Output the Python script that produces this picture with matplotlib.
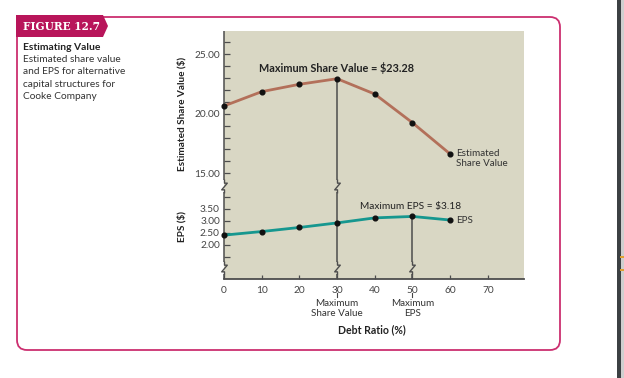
import matplotlib.pyplot as plt
from matplotlib.path import Path
from matplotlib.patches import FancyBboxPatch, Polygon, Rectangle

# values
debt_ratio = [0, 10, 20, 30, 40, 50, 60]
share_value = [20.66, 21.86, 22.48, 22.95, 21.66, 19.25, 16.62]
eps = [2.40, 2.55, 2.72, 2.91, 3.12, 3.18, 3.03]
x_ticks = [0, 10, 20, 30, 40, 50, 60, 70]
sv_ticks = list(range(15, 27))
sv_labeled = [15, 20, 25]
eps_ticks = [1.5, 2.0, 2.5, 3.0, 3.5, 4.0]
eps_labeled = [2.0, 2.5, 3.0, 3.5]
max_sv_idx = 3
max_eps_idx = 5

W, H = 624, 378
PINK = "#b8155a"
BEIGE = "#d9d7c4"
AXIS = "#4d4d4d"
TXT = "#222222"
plt.rcParams['font.family'] = ['Lato', 'DejaVu Sans']

fig = plt.figure(figsize=(W / 100, H / 100), dpi=100)


def px(x, y):
    # pixel position (top-left origin) -> inches for dpi_scale_trans
    return (x / 100, (H - y) / 100)


def fbox(x0, y0, x1, y1):
    return [x0 / W, 1 - y1 / H, (x1 - x0) / W, (y1 - y0) / H]


# frame + banner
frame = FancyBboxPatch(px(17, 350), 5.43, 3.33,
                       boxstyle="round,pad=0,rounding_size=0.1",
                       fill=False, ec="#cc2f70", lw=1.3,
                       transform=fig.dpi_scale_trans)
fig.add_artist(frame)
banner = Polygon([px(16, 15), px(103, 15), px(108, 26), px(103, 37), px(16, 37)],
                 closed=True, fc=PINK, ec="none", transform=fig.dpi_scale_trans)
fig.add_artist(banner)
fig.text(23 / W, 1 - 26.5 / H, "FIGURE 12.7",
         family="DejaVu Serif", weight="bold", color="white",
         fontsize=7.6, va="center", ha="left")

# scrollbar at the right edge of the screenshot
fig.add_artist(Rectangle((617 / W, 0), 4 / W, 1, fc="#3c4043", ec="none",
                         transform=fig.transFigure))
fig.add_artist(Rectangle((621 / W, 0), 3 / W, 1, fc="#cfcfcf", ec="none",
                         transform=fig.transFigure))
for yy in (258, 271):
    fig.add_artist(Rectangle((620 / W, 1 - yy / H), 4 / W, 2 / H, fc="#e0a030",
                             ec="none", transform=fig.transFigure))

# side description
fig.text(23 / W, 1 - 47 / H, "Estimating Value", weight="bold", fontsize=7.4,
         color=TXT, va="center")
desc = ["Estimated share value", "and EPS for alternative",
        "capital structures for", "Cooke Company"]
for i, line in enumerate(desc):
    fig.text(23 / W, 1 - (59.5 + 12.3 * i) / H, line, fontsize=7.3,
             color="#333333", va="center")

# plot background
fig.add_artist(Rectangle((224 / W, 1 - 279 / H), 300 / W, 248 / H, fc=BEIGE,
                         ec="none", transform=fig.transFigure, zorder=-1))

ax_sv = fig.add_axes(fbox(224, 31, 524, 186))
ax_eps = fig.add_axes(fbox(224, 186, 524, 279))
for ax in (ax_sv, ax_eps):
    ax.set_facecolor("none")
    ax.set_xlim(0, 79.6)
    for s in ("top", "right", "left", "bottom"):
        ax.spines[s].set_visible(False)
ax_sv.set_ylim(13.93, 26.96)
ax_eps.set_ylim(0.57, 4.45)
ax_eps.spines["bottom"].set_visible(True)
ax_eps.spines["bottom"].set_color(AXIS)
ax_eps.spines["bottom"].set_linewidth(1.3)

ax_sv.set_xticks([])
ax_sv.set_yticks(sv_ticks)
ax_sv.set_yticklabels([f"{t:.2f}" if t in sv_labeled else "" for t in sv_ticks])
ax_eps.set_yticks(eps_ticks)
ax_eps.set_yticklabels([f"{t:.2f}" if t in eps_labeled else "" for t in eps_ticks])
ax_eps.set_xticks(x_ticks)
ax_eps.set_xticklabels([str(t) for t in x_ticks])
for ax in (ax_sv, ax_eps):
    ax.tick_params(axis="y", direction="in", length=4, width=0.9, color=AXIS,
                   labelsize=7.3, labelcolor="#444444", pad=3)
ax_eps.tick_params(axis="x", direction="in", length=3, width=0.9, color=AXIS,
                   labelsize=7.3, labelcolor="#444444", pad=5)

# break marks
zpath = Path([(0, 0.5), (0, 0.24), (0.2, 0.24), (-0.2, -0.24), (0, -0.24), (0, -0.5)])
ZMS = 10
gap_px = 0.42 * ZMS * 100 / 72
gap_sv = gap_px / 11.9
gap_eps = gap_px / 24.0
sv_bot = ax_sv.get_ylim()[0]
eps_top = ax_eps.get_ylim()[1]
eps_bot = ax_eps.get_ylim()[0]
low_break = 1.03


def zmark(ax, x, y):
    ax.plot([x], [y], marker=zpath, ms=ZMS, mfc="none", mec=AXIS, mew=1.0,
            linestyle="none", clip_on=False, zorder=2)


kw = dict(color=AXIS, lw=1.1, clip_on=False, zorder=2)
# left axis line
ax_sv.vlines(0, sv_bot + gap_sv, ax_sv.get_ylim()[1], **kw)
ax_eps.vlines(0, low_break + gap_eps, eps_top - gap_eps, **kw)
ax_eps.vlines(0, eps_bot, low_break - gap_eps, **kw)
zmark(ax_sv, 0, sv_bot)
zmark(ax_eps, 0, low_break)

# drop line at maximum share value
xs = debt_ratio[max_sv_idx]
ax_sv.vlines(xs, sv_bot + gap_sv, share_value[max_sv_idx], **kw)
ax_eps.vlines(xs, low_break + gap_eps, eps_top - gap_eps, **kw)
ax_eps.vlines(xs, eps_bot, low_break - gap_eps, **kw)
zmark(ax_sv, xs, sv_bot)
zmark(ax_eps, xs, low_break)

# drop line at maximum EPS
xe = debt_ratio[max_eps_idx]
ax_eps.vlines(xe, low_break + gap_eps, eps[max_eps_idx], **kw)
ax_eps.vlines(xe, eps_bot, low_break - gap_eps, **kw)
zmark(ax_eps, xe, low_break)

# series
ax_sv.plot(debt_ratio, share_value, color="#b3705a", lw=2.0, marker="o", ms=3.4,
           mfc="#111111", mec="#111111", clip_on=False, zorder=3)
ax_eps.plot(debt_ratio, eps, color="#16978f", lw=2.0, marker="o", ms=3.4,
            mfc="#111111", mec="#111111", clip_on=False, zorder=3)

ax_sv.annotate(f"Maximum Share Value = ${23.28:.2f}",
               xy=(xs, share_value[max_sv_idx]), xytext=(-0.7, 7.7),
               textcoords="offset points", ha="center", va="center",
               fontsize=7.8, weight="bold", color=TXT)
ax_eps.annotate(f"Maximum EPS = ${eps[max_eps_idx]:.2f}",
                xy=(xe, eps[max_eps_idx]), xytext=(-1, 7.3),
                textcoords="offset points", ha="center", va="center",
                fontsize=7.3, color=TXT)
ax_sv.annotate("Estimated\nShare Value", xy=(debt_ratio[-1], share_value[-1]),
               xytext=(4.3, -3.3), textcoords="offset points", ha="left",
               va="center", fontsize=7.1, color="#333333", linespacing=1.05)
ax_eps.annotate("EPS", xy=(debt_ratio[-1], eps[-1]), xytext=(4.3, 0),
                textcoords="offset points", ha="left", va="center",
                fontsize=7.1, color="#333333")

# labels under the x axis
for xv, lab in ((xs, "Maximum\nShare Value"), (xe, "Maximum\nEPS")):
    ax_eps.plot([xv, xv], [-0.152, -0.192], transform=ax_eps.get_xaxis_transform(),
                color="#444444", lw=0.8, clip_on=False)
    ax_eps.annotate(lab, xy=(xv, 0), xycoords=("data", "axes fraction"),
                    xytext=(0, -14.3), textcoords="offset points", ha="center",
                    va="top", fontsize=7.1, color="#333333", linespacing=1.1)

fig.text(372 / W, 1 - 330 / H, "Debt Ratio (%)", weight="bold", fontsize=7.6,
         color=TXT, ha="center", va="center")
fig.text(182 / W, 1 - 113.5 / H, "Estimated Share Value ($)", weight="bold",
         fontsize=7.2, color=TXT, ha="center", va="center", rotation=90)
fig.text(182 / W, 1 - 226 / H, "EPS ($)", weight="bold", fontsize=7.2,
         color=TXT, ha="center", va="center", rotation=90)

fig.savefig("out.png", dpi=100)
